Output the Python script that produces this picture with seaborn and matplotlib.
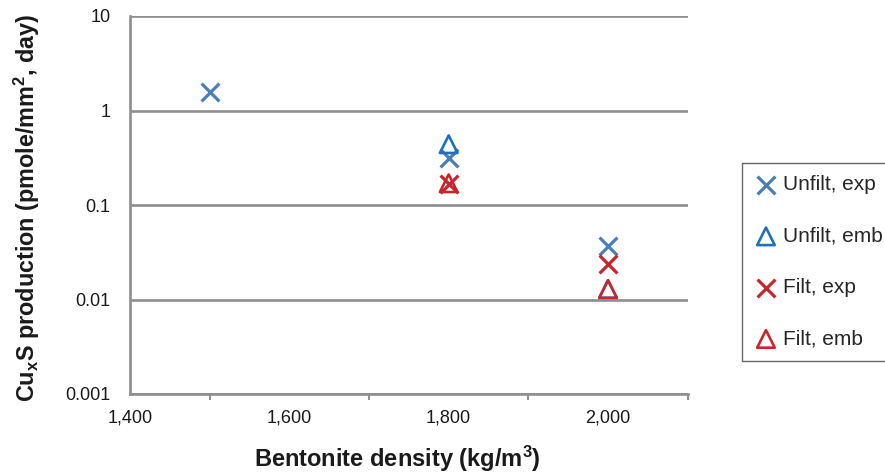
import matplotlib
matplotlib.use("Agg")
import matplotlib.pyplot as plt
import seaborn as sns
import pandas as pd
from matplotlib.ticker import FixedLocator, MultipleLocator

sns.set_style("white")
plt.rcParams['font.family'] = ['Liberation Sans', 'DejaVu Sans']
plt.rcParams['mathtext.fontset'] = 'custom'
plt.rcParams['mathtext.rm'] = 'Liberation Sans'
plt.rcParams['mathtext.bf'] = 'Liberation Sans:bold'
plt.rcParams['mathtext.it'] = 'Liberation Sans:italic'

# Data
unfilt_exp_x = [1500, 1800, 2000]
unfilt_exp_y = [1.57, 0.316, 0.0364]
unfilt_emb_x = [1800, 2000]
unfilt_emb_y = [0.44, 0.0129]
filt_exp_x = [1800, 2000]
filt_exp_y = [0.166, 0.024]
filt_emb_x = [1800, 2000]
filt_emb_y = [0.17, 0.0129]

series_names = ["Unfilt, exp", "Unfilt, emb", "Filt, exp", "Filt, emb"]
yticks = [0.001, 0.01, 0.1, 1, 10]
ytick_labels = ["0.001", "0.01", "0.1", "1", "10"]
xticks = [1400, 1600, 1800, 2000]

W, H = 885, 475
fig = plt.figure(figsize=(W / 100, H / 100), dpi=100)
L, R, T, B = 130, 687.7, 16, 394
ax = fig.add_axes([L / W, 1 - B / H, (R - L) / W, (B - T) / H])

styles = {
    "Unfilt, exp": dict(color="#4A7EBB", marker="x"),
    "Unfilt, emb": dict(color="#1F6FC0", marker="^"),
    "Filt, exp": dict(color="#C8262C", marker="x"),
    "Filt, emb": dict(color="#C8262C", marker="^"),
}
data = {
    "Unfilt, exp": (unfilt_exp_x, unfilt_exp_y),
    "Unfilt, emb": (unfilt_emb_x, unfilt_emb_y),
    "Filt, exp": (filt_exp_x, filt_exp_y),
    "Filt, emb": (filt_emb_x, filt_emb_y),
}

for name in series_names:
    xs, ys = data[name]
    st = styles[name]
    df = pd.DataFrame({"x": xs, "y": ys})
    if st["marker"] == "x":
        sns.scatterplot(data=df, x="x", y="y", ax=ax, marker="x", s=165,
                        color=st["color"], linewidth=2.3, label=name, zorder=3)
    else:
        sns.scatterplot(data=df, x="x", y="y", ax=ax, marker="^", s=160,
                        facecolors="none", edgecolor=st["color"], linewidth=1.9,
                        label=name, zorder=3)

ax.set_yscale("log")
ax.set_ylim(0.001, 10)
ax.set_xlim(1400, 2100)
ax.yaxis.set_major_locator(FixedLocator(yticks))
ax.set_yticklabels(ytick_labels)
ax.yaxis.set_minor_locator(FixedLocator([]))
ax.xaxis.set_major_locator(FixedLocator(xticks))
ax.set_xticklabels([f"{v:,}" for v in xticks])
ax.xaxis.set_minor_locator(MultipleLocator(100))

gray = "#8E8E8E"
ax.grid(True, axis="y", color=gray, linewidth=1.9)
ax.set_axisbelow(True)
for side in ["top", "right"]:
    ax.spines[side].set_visible(False)
for side in ["left", "bottom"]:
    ax.spines[side].set_color(gray)
    ax.spines[side].set_linewidth(1.9)

ax.tick_params(axis="both", which="both", direction="out", color=gray,
               labelsize=13, labelcolor="#1a1a1a")
ax.tick_params(axis="y", which="major", length=6, width=1.4, pad=8)
ax.tick_params(axis="x", which="major", length=5.5, width=1.4, pad=6)
ax.tick_params(axis="x", which="minor", length=4.5, width=1.4, bottom=True)

ax.set_xlabel("Bentonite density (kg/m$^\\mathbf{3}$)", fontsize=17, fontweight="bold",
              color="#1a1a1a")
ax.xaxis.set_label_coords(0.479, -0.133)
ax.set_ylabel("Cu$_\\mathbf{x}$S production (pmole/mm$^\\mathbf{2}$, day)", fontsize=16.8,
              fontweight="bold", color="#1a1a1a")
ax.yaxis.set_label_coords(-0.158, 0.493)

leg = ax.legend(loc="upper left", bbox_to_anchor=(742 / W, 1 - 163 / H),
                bbox_transform=fig.transFigure, frameon=True, fancybox=False,
                fontsize=15, labelspacing=1.55, handletextpad=0.25,
                borderpad=0.6, handlelength=1.1, borderaxespad=0)
leg.get_frame().set_edgecolor("#404040")
leg.get_frame().set_linewidth(1.0)

fig.savefig("out.png", dpi=100)
